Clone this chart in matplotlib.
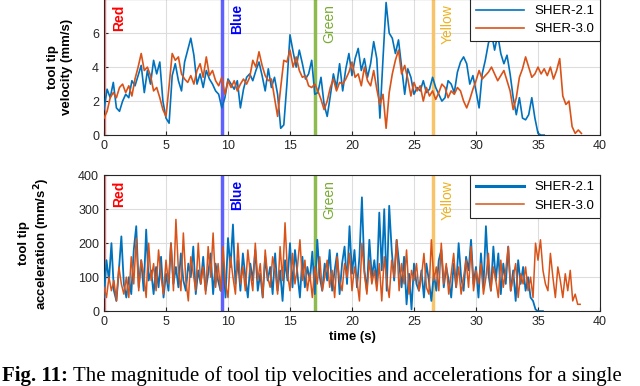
import matplotlib.pyplot as plt
import numpy as np

plt.rcParams['font.family'] = ['Liberation Sans', 'DejaVu Sans']

# velocity samples every 0.25 s
vel_21 = [1.5, 2.7, 2.2, 3.1, 1.6, 1.4, 2.0, 2.4, 2.2, 3.2,
          2.9, 3.5, 4.1, 2.5, 3.8, 3.0, 4.4, 3.6, 4.3, 2.0,
          1.0, 0.7, 3.5, 4.2, 3.2, 2.6, 4.3, 5.0, 5.7, 4.7,
          3.0, 3.6, 2.8, 3.8, 3.3, 3.0, 2.6, 2.4, 1.6, 2.2,
          3.3, 3.0, 2.7, 3.2, 1.6, 2.7, 3.4, 3.6, 3.2, 3.8,
          4.3, 3.5, 2.6, 3.9, 2.8, 3.4, 2.4, 0.4, 0.6, 3.0,
          5.9, 4.9, 4.0, 5.0, 4.2, 3.3, 3.6, 4.4, 2.4, 2.5,
          3.4, 1.8, 1.1, 2.3, 3.6, 2.8, 4.2, 2.6, 3.9, 4.8,
          3.5, 4.5, 5.1, 3.8, 4.5, 3.4, 4.2, 5.5, 4.5, 1.0,
          4.5, 7.8, 6.0, 5.7, 4.8, 5.6, 4.0, 2.4, 3.9, 3.4,
          2.4, 2.8, 2.6, 3.2, 2.5, 2.7, 3.4, 2.8, 2.4, 2.0,
          2.2, 3.2, 3.0, 2.5, 3.7, 4.3, 4.6, 4.2, 3.0, 3.5,
          2.6, 1.6, 3.6, 4.4, 5.4, 6.0, 5.0, 5.9, 4.8, 4.2,
          4.7, 3.6, 2.2, 1.2, 2.2, 1.0, 0.9, 1.2, 2.2, 1.0,
          0.1, 0.0, 0.0]
vel_30 = [1.0, 1.4, 2.2, 2.5, 2.2, 2.8, 3.0, 2.5, 2.9, 2.3,
          3.3, 4.0, 4.8, 3.8, 4.0, 3.5, 2.6, 2.8, 2.2, 1.5,
          1.1, 2.9, 4.8, 4.4, 4.6, 3.6, 3.3, 3.1, 3.5, 3.0,
          3.8, 4.2, 3.4, 4.6, 3.5, 3.8, 3.2, 2.9, 3.4, 2.4,
          3.2, 2.8, 3.2, 2.6, 3.0, 3.3, 3.0, 3.4, 4.4, 4.0,
          4.9, 4.1, 3.5, 3.2, 3.3, 2.2, 1.1, 2.8, 4.4, 4.3,
          5.0, 4.0, 4.6, 3.8, 3.4, 3.5, 2.9, 2.8, 3.0, 2.6,
          2.1, 1.5, 2.0, 2.8, 3.3, 2.6, 3.1, 3.0, 3.3, 3.7,
          4.3, 3.4, 3.6, 2.9, 4.0, 3.2, 2.9, 3.8, 2.7, 1.8,
          2.4, 0.4, 2.5, 3.6, 4.4, 5.0, 3.6, 4.1, 3.3, 2.3,
          3.1, 2.6, 2.9, 2.0, 2.8, 2.3, 2.6, 2.1, 2.5, 3.0,
          2.8, 2.2, 2.6, 2.4, 2.8, 2.6, 2.0, 1.6, 2.1, 2.7,
          3.2, 3.8, 3.3, 3.5, 3.7, 4.0, 3.6, 3.2, 3.5, 3.8,
          3.2, 2.6, 1.5, 2.2, 3.4, 3.9, 4.6, 4.0, 3.4, 3.6,
          4.0, 3.6, 3.9, 3.5, 4.0, 3.3, 3.8, 4.5, 2.3, 1.8,
          2.0, 0.5, 0.1, 0.3, 0.1]

# acceleration samples every 0.2 s
acc_21 = [40, 150, 90, 200, 60, 30, 120, 220, 80, 40,
          100, 50, 180, 250, 70, 150, 60, 240, 90, 120,
          50, 130, 70, 160, 40, 110, 60, 200, 80, 130,
          70, 170, 90, 60, 140, 100, 190, 50, 120, 80,
          160, 60, 110, 170, 50, 140, 90, 60, 150, 40,
          215, 130, 255, 80, 150, 60, 170, 100, 40, 140,
          90, 180, 60, 110, 40, 160, 90, 130, 50, 170,
          60, 120, 30, 150, 90, 200, 70, 180, 110, 40,
          160, 70, 130, 90, 175, 50, 210, 100, 60, 140,
          90, 180, 60, 120, 170, 50, 140, 190, 80, 250,
          110, 180, 70, 160, 335, 120, 60, 210, 100, 150,
          80, 290, 120, 300, 60, 310, 180, 90, 210, 140,
          70, 160, 20, 110, 5, 140, 80, 60, 120, 40,
          140, 90, 30, 110, 60, 150, 180, 70, 130, 90,
          40, 140, 70, 200, 100, 60, 160, 120, 210, 80,
          130, 40, 170, 70, 250, 110, 60, 190, 90, 170,
          50, 140, 80, 190, 60, 120, 30, 150, 80, 130,
          60, 100, 40, 30, 5, 0, 0, 0]
acc_30 = [70, 40, 100, 60, 90, 30, 130, 80, 50, 100,
          40, 160, 80, 215, 60, 150, 110, 40, 200, 90,
          140, 60, 180, 100, 50, 150, 80, 200, 60, 270,
          120, 60, 230, 90, 30, 160, 110, 60, 200, 80,
          130, 50, 190, 100, 230, 70, 140, 60, 190, 80,
          40, 160, 100, 50, 200, 80, 130, 60, 180, 110,
          60, 200, 90, 140, 40, 180, 100, 70, 160, 120,
          50, 190, 90, 260, 110, 60, 170, 80, 130, 210,
          90, 150, 60, 110, 40, 130, 80, 160, 60, 100,
          150, 70, 120, 40, 160, 90, 60, 140, 100, 170,
          60, 130, 90, 30, 200, 110, 50, 150, 80, 120,
          60, 140, 30, 160, 90, 40, 150, 100, 210, 60,
          140, 80, 180, 50, 120, 90, 140, 60, 100, 170,
          70, 50, 210, 90, 130, 60, 200, 80, 140, 50,
          110, 170, 70, 130, 50, 100, 150, 70, 190, 60,
          120, 80, 140, 50, 100, 170, 60, 130, 90, 40,
          150, 70, 120, 190, 60, 100, 140, 40, 110, 80,
          130, 60, 100, 40, 200, 150, 210, 120, 80, 60,
          170, 100, 40, 130, 90, 40, 110, 60, 120, 30,
          50, 20, 20]

markers = ['Red', 'Blue', 'Green', 'Yellow']
marker_t = [0.0, 9.5, 17.0, 26.5]
line_cols = ['#F08080', '#6060FF', '#8DBB4F', '#F7C46A']
text_cols = ['#FF0000', '#0000FF', '#77AC30', '#EDB120']
text_bold = ['bold', 'bold', 'normal', 'normal']

c21 = '#0072BD'
c30 = '#D95319'

fig = plt.figure(figsize=(6.4, 3.86), dpi=100)
ax1 = fig.add_axes([0.1625, 0.650, 0.775, 0.3523])
ax2 = fig.add_axes([0.1625, 0.194, 0.775, 0.352])

t_v21 = np.arange(len(vel_21)) * 0.25
t_v30 = np.arange(len(vel_30)) * 0.25
t_a21 = np.arange(len(acc_21)) * 0.2
t_a30 = np.arange(len(acc_30)) * 0.2

for ax, top in [(ax1, 7.7), (ax2, 385)]:
    for name, t, lc, tc, fw in zip(markers, marker_t, line_cols, text_cols, text_bold):
        ax.axvline(t, color=lc, lw=2.5, zorder=1)
        ax.text(t + 1.2, top, name, color=tc, rotation=90, fontsize=10,
                fontweight=fw, ha='center', va='top', zorder=5)

ax1.plot(t_v21, vel_21, color=c21, lw=1.2, label='SHER-2.1', zorder=3)
ax1.plot(t_v30, vel_30, color=c30, lw=1.2, label='SHER-3.0', zorder=3)
ax2.plot(t_a21, acc_21, color=c21, lw=1.3, label='SHER-2.1', zorder=3)
ax2.plot(t_a30, acc_30, color=c30, lw=1.1, label='SHER-3.0', zorder=3)

ax1.set_ylim(0, 8)
ax1.set_yticks([0, 2, 4, 6])
ax2.set_ylim(0, 400)
ax2.set_yticks([0, 100, 200, 300, 400])

for ax in (ax1, ax2):
    ax.set_xlim(0, 40)
    ax.set_xticks(range(0, 41, 5))
    ax.grid(True, color='#DDDDDD', lw=0.8)
    ax.set_axisbelow(True)
    ax.tick_params(direction='in', labelsize=9, colors='#262626', length=3)
    for s in ax.spines.values():
        s.set_color('#262626')
    leg = ax.legend(loc='upper right', fontsize=9.5, fancybox=False,
                    framealpha=1, edgecolor='#262626', borderpad=0.45,
                    handlelength=3.6, labelspacing=0.45, borderaxespad=0.0)
    leg.get_frame().set_linewidth(0.8)

ax2.get_legend().get_lines()[0].set_linewidth(2.2)

ax1.set_ylabel('tool tip\nvelocity (mm/s)', fontsize=9.5, fontweight='bold')
ax1.yaxis.set_label_coords(-0.062, 0.5)
ax2.set_ylabel('tool tip\nacceleration (mm/s$^\\mathbf{2}$)', fontsize=9.5, fontweight='bold')
ax2.yaxis.set_label_coords(-0.105, 0.5)
ax2.set_xlabel('time (s)', fontsize=9.5, fontweight='bold', labelpad=2)

# figure caption under the plots
cap1 = fig.text(0.003, 0.014, 'Fig. 11:', family='Liberation Serif', fontweight='bold', fontsize=15)
fig.canvas.draw()
bb = cap1.get_window_extent()
fig.text(bb.x1 / fig.bbox.width + 0.008, 0.014,
         'The magnitude of tool tip velocities and accelerations for a single',
         family='Liberation Serif', fontsize=15)

fig.savefig('out.png', dpi=100)
